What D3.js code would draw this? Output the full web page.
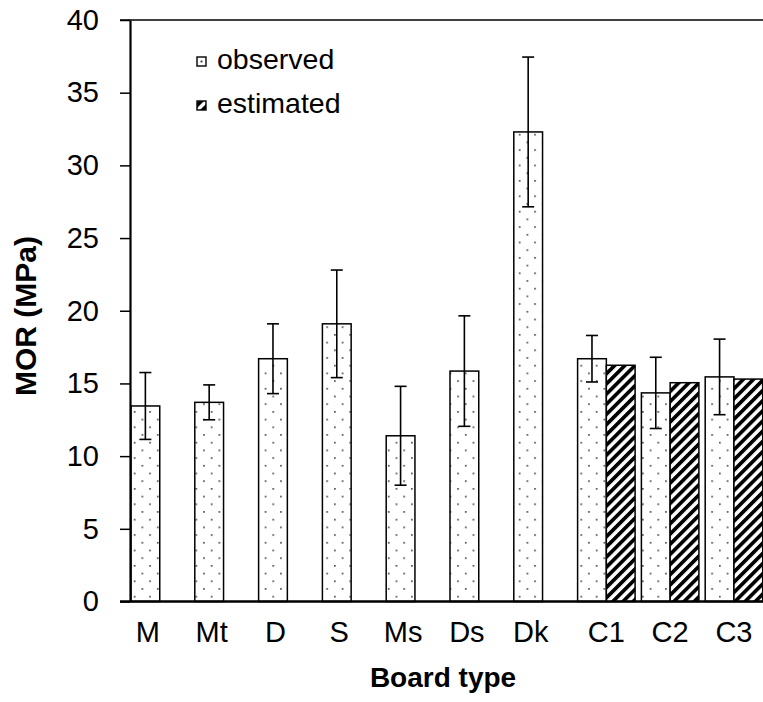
<!DOCTYPE html>
<html>
<head>
<meta charset="utf-8">
<script src="https://cdn.jsdelivr.net/npm/d3@7"></script>
<style>
  html, body { margin: 0; padding: 0; background: #fff; }
  svg { display: block; font-family: "Liberation Sans", Arial, sans-serif; }
</style>
</head>
<body>
<svg id="chart" width="763" height="702"></svg>
<script>
const categories = ['M', 'Mt', 'D', 'S', 'Ms', 'Ds', 'Dk', 'C1', 'C2', 'C3']
const observed = [13.45, 13.7, 16.7, 19.1, 11.4, 15.85, 32.3, 16.7, 14.35, 15.45]
const observedSD = [2.3, 1.2, 2.4, 3.7, 3.4, 3.8, 5.15, 1.6, 2.45, 2.6]
const estimated = [null, null, null, null, null, null, null, 16.25, 15.05, 15.3]
const yTicks = [0, 5, 10, 15, 20, 25, 30, 35, 40]
const series = ['observed', 'estimated']

const svg = d3.select('#chart')
const defs = svg.append('defs')

// dotted fill (like Excel 5% pattern)
const dots = defs.append('pattern')
  .attr('id', 'dots')
  .attr('patternUnits', 'userSpaceOnUse')
  .attr('width', 15.4).attr('height', 15.4)
dots.append('rect').attr('width', 15.4).attr('height', 15.4).attr('fill', '#fff')
dots.append('rect').attr('x', 3).attr('y', 3).attr('width', 1.5).attr('height', 1.5).attr('fill', '#222')
dots.append('rect').attr('x', 10.7).attr('y', 10.7).attr('width', 1.5).attr('height', 1.5).attr('fill', '#222')

// legend key version: one dot in the middle of the square
const dotsKey = defs.append('pattern')
  .attr('id', 'dotsKey')
  .attr('patternUnits', 'objectBoundingBox')
  .attr('patternContentUnits', 'objectBoundingBox')
  .attr('width', 1).attr('height', 1)
dotsKey.append('rect').attr('width', 1).attr('height', 1).attr('fill', '#fff')
dotsKey.append('rect').attr('x', 0.4).attr('y', 0.4).attr('width', 0.2).attr('height', 0.2).attr('fill', '#222')

// wide upward diagonal
const hatch = defs.append('pattern')
  .attr('id', 'hatch')
  .attr('patternUnits', 'userSpaceOnUse')
  .attr('width', 7.2).attr('height', 7.2)
  .attr('patternTransform', 'rotate(45)')
hatch.append('rect').attr('width', 7.2).attr('height', 7.2).attr('fill', '#fff')
hatch.append('rect').attr('width', 3.7).attr('height', 7.2).attr('fill', '#000')

const y = d3.scaleLinear().domain([0, 40]).range([601.5, 20])
const x = d3.scaleBand().domain(categories).range([130, 130 + 63.8 * categories.length])
const xs = d3.scaleBand().domain(series).range([1, 58.5])

const rows = categories.map((c, i) => ({
  cat: c, obs: observed[i], sd: observedSD[i], est: estimated[i]
}))

// top border
svg.append('line')
  .attr('x1', 120).attr('x2', 763)
  .attr('y1', y(40)).attr('y2', y(40))
  .attr('stroke', '#000').attr('stroke-width', 1.5)

// bars
const g = svg.append('g')
g.selectAll('rect.obs')
  .data(rows)
  .join('rect')
  .attr('class', 'obs')
  .attr('x', d => x(d.cat) + xs('observed'))
  .attr('y', d => y(d.obs))
  .attr('width', xs.bandwidth())
  .attr('height', d => y(0) - y(d.obs))
  .attr('fill', 'url(#dots)')
  .attr('stroke', '#000').attr('stroke-width', 1.5)

g.selectAll('rect.est')
  .data(rows.filter(d => d.est != null))
  .join('rect')
  .attr('class', 'est')
  .attr('x', d => x(d.cat) + xs('estimated'))
  .attr('y', d => y(d.est))
  .attr('width', xs.bandwidth())
  .attr('height', d => y(0) - y(d.est))
  .attr('fill', 'url(#hatch)')
  .attr('stroke', '#000').attr('stroke-width', 1.5)

// error bars
const cx = d => x(d.cat) + xs('observed') + xs.bandwidth() / 2
const err = g.selectAll('g.err').data(rows).join('g').attr('class', 'err')
  .attr('stroke', '#000').attr('stroke-width', 1.6)
err.append('line')
  .attr('x1', cx).attr('x2', cx)
  .attr('y1', d => y(d.obs - d.sd)).attr('y2', d => y(d.obs + d.sd))
err.append('line')
  .attr('x1', d => cx(d) - 6).attr('x2', d => cx(d) + 6)
  .attr('y1', d => y(d.obs + d.sd)).attr('y2', d => y(d.obs + d.sd))
err.append('line')
  .attr('x1', d => cx(d) - 6).attr('x2', d => cx(d) + 6)
  .attr('y1', d => y(d.obs - d.sd)).attr('y2', d => y(d.obs - d.sd))

// y axis
const yAxis = svg.append('g')
  .attr('transform', 'translate(130,0)')
  .call(d3.axisLeft(y).tickValues(yTicks).tickSize(10).tickSizeOuter(0).tickPadding(21))
yAxis.select('.domain').attr('stroke-width', 2.2)
yAxis.selectAll('.tick line').attr('stroke-width', 1.5)
yAxis.selectAll('.tick text')
  .attr('font-family', '"Liberation Sans", Arial, sans-serif')
  .attr('font-size', 29).attr('fill', '#000')

// x axis line
svg.append('line')
  .attr('x1', 120).attr('x2', 763)
  .attr('y1', y(0)).attr('y2', y(0))
  .attr('stroke', '#000').attr('stroke-width', 2.4)

// category labels: centred on the pair when there is an estimate
svg.append('g').selectAll('text')
  .data(rows)
  .join('text')
  .attr('x', d => d.est != null ? x(d.cat) + xs('estimated') : cx(d) + 2.5)
  .attr('y', 642)
  .attr('text-anchor', 'middle')
  .attr('font-size', 29)
  .text(d => d.cat)

// axis titles
svg.append('text')
  .attr('x', 443).attr('y', 687)
  .attr('text-anchor', 'middle')
  .attr('font-size', 28).attr('font-weight', 'bold')
  .text('Board type')

svg.append('text')
  .attr('transform', 'translate(36,316) rotate(-90)')
  .attr('text-anchor', 'middle')
  .attr('font-size', 30).attr('font-weight', 'bold')
  .text('MOR (MPa)')

// legend
const legendItems = [
  { label: 'observed', fill: 'url(#dotsKey)' },
  { label: 'estimated', fill: 'url(#hatch)' }
]
const li = svg.append('g').selectAll('g').data(legendItems).join('g')
  .attr('transform', (d, i) => `translate(197,${69 + i * 44})`)
li.append('rect')
  .attr('x', 0).attr('y', -12)
  .attr('width', 9).attr('height', 9)
  .attr('fill', d => d.fill)
  .attr('stroke', '#000').attr('stroke-width', 1.4)
li.append('text')
  .attr('x', 20).attr('y', 0)
  .attr('font-size', 28.5)
  .text(d => d.label)
</script>
</body>
</html>
